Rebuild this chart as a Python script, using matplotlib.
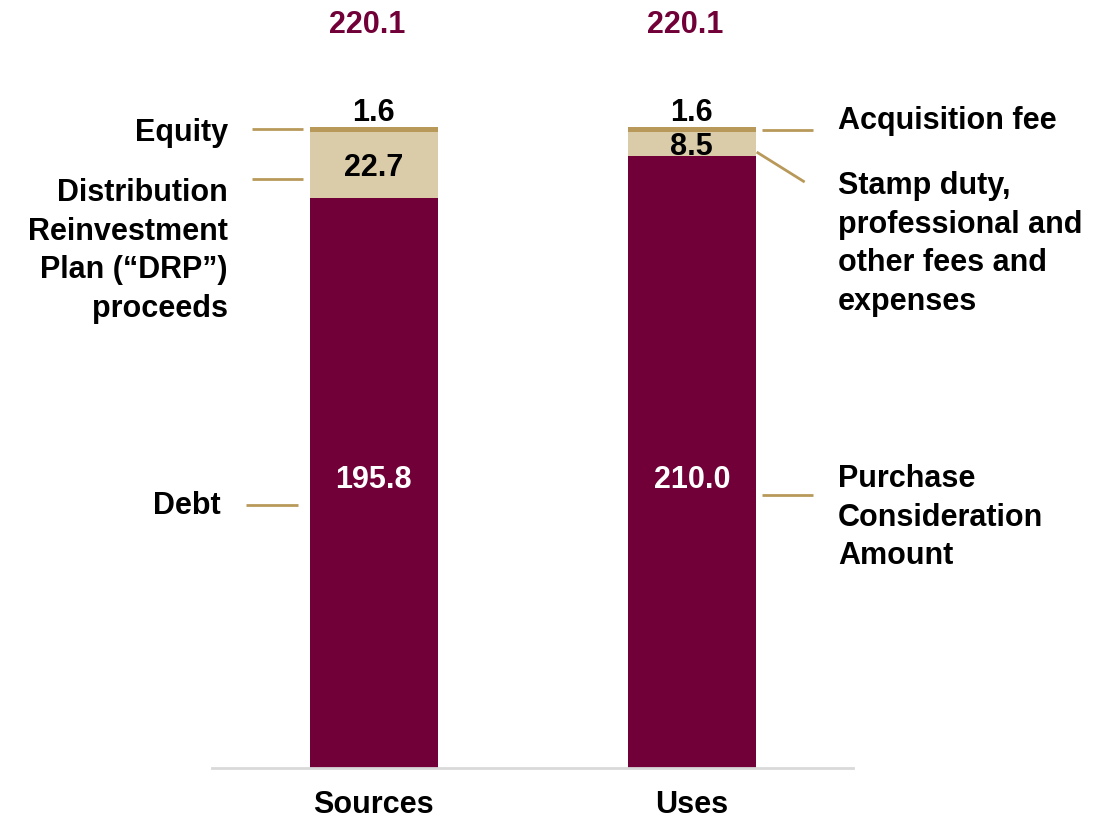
import numpy as np
import matplotlib as mpl
import matplotlib.pyplot as plt

plt.rcParams['font.family'] = ['Liberation Sans', 'DejaVu Sans']
plt.rcParams['font.weight'] = 'bold'

# data
cats = ['Sources', 'Uses']
bottom_vals = [195.8, 210.0]   # Debt / Purchase Consideration Amount
mid_vals = [22.7, 8.5]         # DRP proceeds / Stamp duty etc.
top_vals = [1.6, 1.6]          # Equity / Acquisition fee
totals = [220.1, 220.1]

maroon = '#720038'
beige = '#DACBA9'
gold = '#B8995A'

W, H = 1103, 822
fig = plt.figure(figsize=(W/100, H/100), dpi=100)
ax = fig.add_axes([212/W, 54/H, 641/W, 641/H])

x = np.arange(len(cats))
bw = 0.4025
b1 = np.array(bottom_vals)
b2 = b1 + np.array(mid_vals)
ax.bar(x, bottom_vals, bw, color=maroon, zorder=2)
ax.bar(x, mid_vals, bw, bottom=b1, color=beige, zorder=2)
ax.bar(x, top_vals, bw, bottom=b2, color=gold, zorder=2)

ax.set_xlim(-0.509, 1.507)
ax.set_ylim(0, 220.1)
for s in ['top', 'left', 'right']:
    ax.spines[s].set_visible(False)
ax.spines['bottom'].set_color('#D9D9D9')
ax.spines['bottom'].set_linewidth(2)
ax.set_yticks([])
ax.set_xticks(x)
ax.set_xticklabels(cats, fontsize=22, fontweight='bold')
ax.tick_params(axis='x', length=0, pad=16)

fs = 22
# values
for i in range(2):
    ax.text(x[i] - 0.02, 255.2, '%.1f' % totals[i], ha='center', va='center',
            color=maroon, fontsize=fs, fontweight='bold', clip_on=False)
    ax.text(x[i], b2[i] + top_vals[i] - 0.3, '%.1f' % top_vals[i], ha='center',
            va='bottom', color='black', fontsize=fs, fontweight='bold')
    ax.text(x[i], 98.8, '%.1f' % bottom_vals[i], ha='center', va='center',
            color='white', fontsize=fs, fontweight='bold')
ax.text(x[0], b1[0] + mid_vals[0] / 2 - 1.0, '%.1f' % mid_vals[0], ha='center',
        va='center', color='black', fontsize=fs, fontweight='bold')
ax.text(x[1], b1[1] + mid_vals[1] / 2 - 0.9, '%.1f' % mid_vals[1], ha='center',
        va='center', color='black', fontsize=fs, fontweight='bold')

# leader lines
lines = [((-0.384, -0.223), (219.4, 219.4)),
         ((-0.384, -0.223), (202.2, 202.2)),
         ((-0.403, -0.239), (90.3, 90.3)),
         ((1.220, 1.381), (219.0, 219.0)),
         ((1.204, 1.355), (211.5, 201.2)),
         ((1.220, 1.381), (93.7, 93.7))]
for xs, ys in lines:
    ax.plot(xs, ys, color=gold, lw=2, clip_on=False, solid_capstyle='butt')

# category labels
ls = 1.38
ax.text(-0.459, 218.0, 'Equity', ha='right', va='center', fontsize=fs,
        fontweight='bold', clip_on=False)
ax.text(-0.459, 202.6, 'Distribution\nReinvestment\nPlan (\u201cDRP\u201d)\nproceeds',
        ha='right', va='top', fontsize=fs, fontweight='bold', linespacing=ls,
        clip_on=False)
ax.text(-0.481, 90.0, 'Debt', ha='right', va='center', fontsize=fs,
        fontweight='bold', clip_on=False)
ax.text(1.459, 222.2, 'Acquisition fee', ha='left', va='center', fontsize=fs,
        fontweight='bold', clip_on=False)
ax.text(1.459, 205.0, 'Stamp duty,\nprofessional and\nother fees and\nexpenses',
        ha='left', va='top', fontsize=fs, fontweight='bold', linespacing=ls,
        clip_on=False)
ax.text(1.459, 104.4, 'Purchase\nConsideration\nAmount', ha='left', va='top',
        fontsize=fs, fontweight='bold', linespacing=ls, clip_on=False)

fig.savefig('out.png', dpi=100)
